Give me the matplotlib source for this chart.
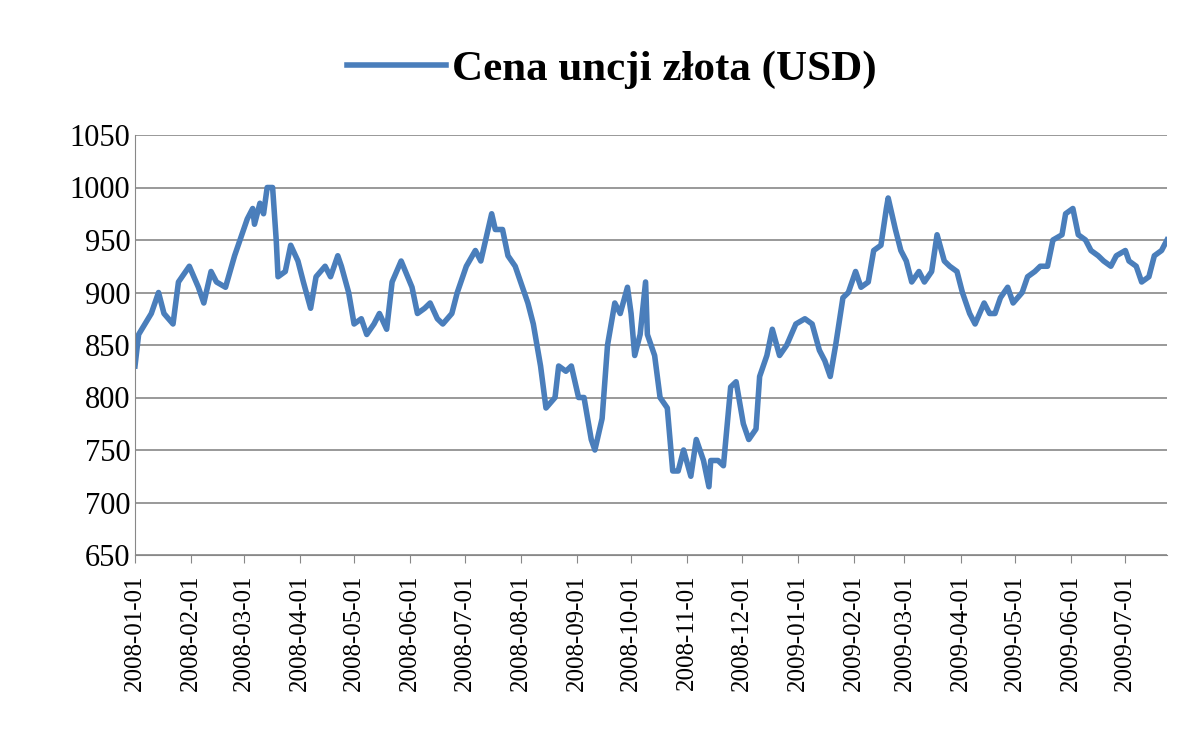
import matplotlib
matplotlib.use("Agg")
import matplotlib.pyplot as plt
import pandas as pd

dates = ["2008-01-01","2008-01-03","2008-01-10","2008-01-14","2008-01-17","2008-01-22","2008-01-25","2008-01-31",
"2008-02-05","2008-02-08","2008-02-12","2008-02-15","2008-02-20","2008-02-25","2008-02-28",
"2008-03-03","2008-03-06","2008-03-07","2008-03-10","2008-03-12","2008-03-14","2008-03-17","2008-03-19","2008-03-20","2008-03-24","2008-03-27","2008-03-31",
"2008-04-03","2008-04-07","2008-04-10","2008-04-15","2008-04-18","2008-04-22","2008-04-24","2008-04-28",
"2008-05-01","2008-05-05","2008-05-08","2008-05-12","2008-05-15","2008-05-19","2008-05-22","2008-05-27",
"2008-06-02","2008-06-05","2008-06-09","2008-06-12","2008-06-16","2008-06-19","2008-06-24","2008-06-27",
"2008-07-02","2008-07-07","2008-07-10","2008-07-14","2008-07-16","2008-07-18","2008-07-22","2008-07-25","2008-07-29",
"2008-08-01","2008-08-05","2008-08-08","2008-08-12","2008-08-15","2008-08-20","2008-08-22","2008-08-26","2008-08-29",
"2008-09-02","2008-09-05","2008-09-09","2008-09-11","2008-09-15","2008-09-18","2008-09-22","2008-09-25","2008-09-29",
"2008-10-01","2008-10-03","2008-10-06","2008-10-09","2008-10-10","2008-10-14","2008-10-17","2008-10-21","2008-10-24","2008-10-27","2008-10-30",
"2008-11-03","2008-11-06","2008-11-10","2008-11-13","2008-11-14","2008-11-18","2008-11-21","2008-11-25","2008-11-28",
"2008-12-02","2008-12-05","2008-12-09","2008-12-11","2008-12-15","2008-12-18","2008-12-22","2008-12-26","2008-12-31",
"2009-01-05","2009-01-09","2009-01-13","2009-01-16","2009-01-19","2009-01-22","2009-01-26","2009-01-29",
"2009-02-02","2009-02-05","2009-02-09","2009-02-12","2009-02-16","2009-02-19","2009-02-20","2009-02-24","2009-02-27",
"2009-03-02","2009-03-05","2009-03-09","2009-03-12","2009-03-16","2009-03-19","2009-03-23","2009-03-26","2009-03-30",
"2009-04-02","2009-04-06","2009-04-09","2009-04-14","2009-04-17","2009-04-20","2009-04-23","2009-04-27","2009-04-30",
"2009-05-05","2009-05-08","2009-05-12","2009-05-15","2009-05-19","2009-05-22","2009-05-27","2009-05-29",
"2009-06-02","2009-06-05","2009-06-09","2009-06-12","2009-06-16","2009-06-19","2009-06-23","2009-06-26",
"2009-07-01","2009-07-03","2009-07-07","2009-07-10","2009-07-14","2009-07-17","2009-07-21","2009-07-24"]
prices = [830,860,880,900,880,870,910,925,
905,890,920,910,905,935,950,
970,980,965,985,975,1000,1000,950,915,920,945,930,
910,885,915,925,915,935,925,900,
870,875,860,870,880,865,910,930,
905,880,885,890,875,870,880,900,
925,940,930,960,975,960,960,935,925,
910,890,870,830,790,800,830,825,830,
800,800,760,750,780,850,890,880,905,
880,840,860,910,860,840,800,790,730,730,750,
725,760,740,715,740,740,735,810,815,
775,760,770,820,840,865,840,850,870,
875,870,845,835,820,850,895,900,
920,905,910,940,945,980,990,960,940,
930,910,920,910,920,955,930,925,920,
900,880,870,890,880,880,895,905,890,
900,915,920,925,925,950,955,975,
980,955,950,940,935,930,925,935,
940,930,925,910,915,935,940,950]
tick_labels = pd.date_range("2008-01-01", "2009-07-01", freq="MS")

plt.rcParams['font.family'] = ['Liberation Serif', 'DejaVu Serif']
fig = plt.figure(figsize=(12, 7.5), dpi=100)
ax = fig.add_axes([0.1125, 0.26, 0.86, 0.56])
x = pd.to_datetime(dates)
ax.plot(x, prices, color='#4a7ebb', lw=4, label='Cena uncji złota (USD)')
ax.set_ylim(650, 1050)
ax.set_yticks(range(650, 1051, 50))
ax.set_xlim(pd.Timestamp("2008-01-01"), pd.Timestamp("2009-07-24"))
ax.set_xticks(tick_labels)
ax.set_xticklabels([d.strftime("%Y-%m-%d") for d in tick_labels], rotation=90, fontsize=18)
ax.tick_params(axis='y', labelsize=22, length=0)
ax.tick_params(axis='x', length=6, color='#888888', pad=8)
ax.grid(axis='y', color='#888888', lw=1.2)
ax.set_axisbelow(True)
for s in ['top', 'right']:
    ax.spines[s].set_visible(False)
ax.spines['left'].set_color('#888888')
ax.spines['bottom'].set_color('#888888')
fig.legend(loc='upper center', bbox_to_anchor=(0.51, 0.985), frameon=False,
           prop={'size': 31, 'weight': 'bold'}, handlelength=2.3, handletextpad=0.15)
fig.savefig("out.png", dpi=100)
